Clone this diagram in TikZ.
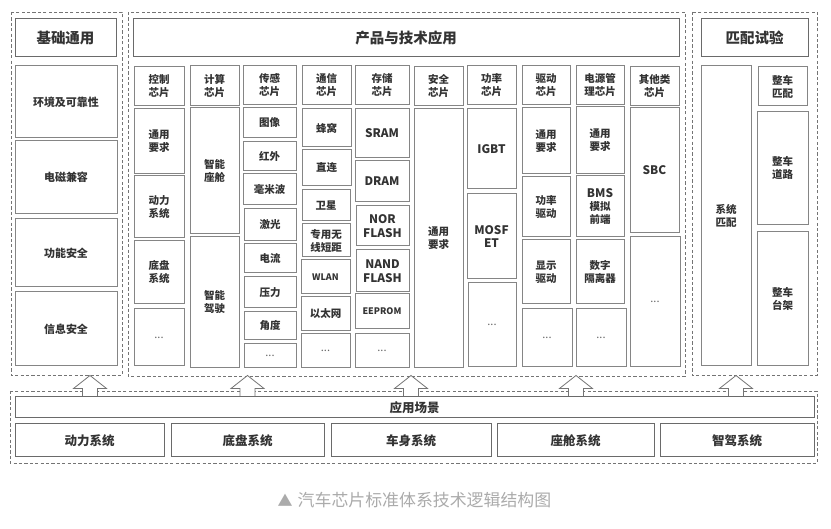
\documentclass[tikz,border=0pt]{standalone}
\usepackage{fontspec}
\setmainfont{Noto Sans CJK SC}
\definecolor{boxline}{HTML}{858585}
\definecolor{titleline}{HTML}{6A6A6A}
\definecolor{frameline}{HTML}{747474}
\definecolor{inktext}{HTML}{333333}
\definecolor{captiontext}{HTML}{ABABAB}
\tikzset{
  cell/.style={draw=boxline,line width=1pt,fill=white,inner sep=0pt,outer sep=0pt,align=center,text=inktext,
    font=\fontsize{10.5}{13}\selectfont\bfseries},
  bigcell/.style={cell,font=\fontsize{11}{13}\selectfont\bfseries},
  latincell/.style={cell,font=\fontsize{11.8}{13.5}\selectfont\bfseries},
  tinycell/.style={cell,font=\fontsize{9}{11}\selectfont\bfseries},
  dotcell/.style={cell,text=black!60,font=\fontsize{11}{12}\selectfont},
  headcell/.style={cell,draw=titleline,font=\fontsize{14.5}{16}\selectfont\bfseries},
  appcell/.style={cell,draw=titleline,font=\fontsize{12.5}{14}\selectfont\bfseries},
  frame/.style={draw=frameline,line width=0.8pt,dash pattern=on 3.2pt off 2.2pt},
  uparrow/.style={draw=frameline,line width=0.8pt,fill=white,line join=miter}
}
\newcommand{\bx}[6][cell]{%
  \pgfmathsetmacro{\bxw}{#4-#3}\pgfmathsetmacro{\bxh}{#6-#5}%
  \pgfmathsetmacro{\bxx}{(#3+#4)/2}\pgfmathsetmacro{\bxy}{(#5+#6)/2}%
  \node[#1,minimum width=\bxw pt,minimum height=\bxh pt] (#2) at (\bxx,\bxy) {\bxtext};}
\newcommand{\cellbox}[7][cell]{\def\bxtext{#7}\bx[#1]{#2}{#3}{#4}{#5}{#6}}
\newcommand{\uparr}[1]{%
  \draw[uparrow] (#1-7.5,397) -- (#1-7.5,388.5) -- (#1-16.5,388.5) -- (#1,375.5) -- (#1+16.5,388.5) -- (#1+7.5,388.5) -- (#1+7.5,397);}
\begin{document}
\begin{tikzpicture}[x=1pt,y=-1pt]
\useasboundingbox (0,0) rectangle (831,529);
\fill[white] (0,0) rectangle (831,529);
% dashed frames
\draw[frame] (11,12) rectangle (122,375);
\draw[frame] (128,12) rectangle (685,376);
\draw[frame] (692,12) rectangle (817,375);
\draw[frame] (10,391) rectangle (817,463);
% arrows
\uparr{90}\uparr{247.5}\uparr{411}\uparr{576}\uparr{736}
% left column
\cellbox[headcell]{jc}{15}{116}{19}{57}{基础通用}
\cellbox[bigcell]{j1}{15}{117}{66}{138}{\raisebox{-1pt}{环境及可靠性}}
\cellbox[bigcell]{j2}{15}{117}{141}{214}{\raisebox{-1pt}{电磁兼容}}
\cellbox[bigcell]{j3}{15}{117}{219}{287}{功能安全}
\cellbox[bigcell]{j4}{15}{117}{292}{366}{信息安全}
% product header
\cellbox[headcell]{cp}{133}{679}{19}{57}{产品与技术应用}
% control
\cellbox{a0}{134}{184}{67}{106}{控制\\芯片}
\cellbox{a1}{134}{184}{109}{174}{通用\\要求}
\cellbox{a2}{134}{184}{176}{238}{动力\\系统}
\cellbox{a3}{134}{184}{241}{304}{底盘\\系统}
\cellbox[dotcell]{a4}{134}{184}{309}{366}{...}
% compute
\cellbox{b0}{190}{239}{66}{106}{计算\\芯片}
\cellbox{b1}{190}{239}{108}{234}{智能\\座舱}
\cellbox{b2}{190}{239}{237}{368}{智能\\驾驶}
% sensor
\cellbox{c0}{243}{296}{66}{105}{传感\\芯片}
\cellbox{c1}{243}{296}{108}{138}{图像}
\cellbox{c2}{243}{296}{142}{171}{红外}
\cellbox{c3}{243}{296}{174}{205}{毫米波}
\cellbox{c4}{244}{296}{209}{241}{激光}
\cellbox{c5}{244}{296}{244}{273}{电流}
\cellbox{c6}{244}{296}{277}{308}{压力}
\cellbox{c7}{244}{296}{312}{340}{角度}
\cellbox[dotcell]{c8}{244}{296}{344}{368}{...}
% comm
\cellbox{d0}{302}{351}{66}{105}{通信\\芯片}
\cellbox{d1}{302}{351}{109}{147}{蜂窝}
\cellbox{d2}{302}{351}{150}{186}{直连}
\cellbox{d3}{302}{350}{190}{221}{卫星}
\cellbox{d4}{302}{350}{224}{257}{专用无\\线短距}
\cellbox[tinycell]{d5}{301}{350}{260}{294}{WLAN}
\cellbox{d6}{301}{350}{297}{331}{以太网}
\cellbox[dotcell]{d7}{301}{350}{334}{368}{...}
% storage
\cellbox{e0}{355}{409}{66}{105}{存储\\芯片}
\cellbox[latincell]{e1}{355}{409}{109}{158}{SRAM}
\cellbox[latincell]{e2}{355}{409}{161}{202}{DRAM}
\cellbox[latincell]{e3}{356}{409}{206}{246}{NOR\\FLASH}
\cellbox[latincell]{e4}{356}{409}{250}{292}{NAND\\FLASH}
\cellbox[tinycell]{e5}{355}{409}{294}{329}{EEPROM}
\cellbox[dotcell]{e6}{355}{409}{334}{368}{...}
% safety
\cellbox{f0}{414}{463}{67}{106}{安全\\芯片}
\cellbox{f1}{414}{463}{109}{368}{通用\\要求}
% power
\cellbox{g0}{467}{516}{66}{105}{功率\\芯片}
\cellbox[latincell]{g1}{467}{516}{109}{189}{IGBT}
\cellbox[latincell]{g2}{467}{516}{194}{279}{MOSF\\ET}
\cellbox[dotcell]{g3}{468}{516}{283}{367}{...}
% drive
\cellbox{h0}{522}{570}{66}{105}{驱动\\芯片}
\cellbox{h1}{522}{570}{108}{174}{通用\\要求}
\cellbox{h2}{522}{570}{177}{237}{功率\\驱动}
\cellbox{h3}{522}{570}{240}{304}{显示\\驱动}
\cellbox[dotcell]{h4}{522}{572}{309}{367}{...}
% power management
\cellbox{i0}{576}{624}{66}{105}{电源管\\理芯片}
\cellbox{i1}{576}{624}{107}{174}{通用\\要求}
\cellbox[cell]{i2}{576}{624}{176}{237}{{\fontsize{11.8}{13}\selectfont BMS}\\模拟\\前端}
\cellbox{i3}{576}{624}{240}{304}{数字\\隔离器}
\cellbox[dotcell]{i4}{576}{626}{309}{367}{...}
% other
\cellbox{k0}{630}{679}{67}{106}{其他类\\芯片}
\cellbox[latincell]{k1}{630}{679}{108}{233}{SBC}
\cellbox[dotcell]{k2}{630}{680}{237}{367}{...}
% matching
\cellbox[headcell]{cm}{701}{808}{19}{57}{匹配试验}
\cellbox{m1}{701}{751}{66}{366}{系统\\匹配}
\cellbox{m2}{758}{807}{67}{106}{整车\\匹配}
\cellbox{m3}{757}{808}{112}{225}{整车\\道路}
\cellbox{m4}{757}{808}{232}{366}{整车\\台架}
% application
\cellbox[appcell]{ap}{15}{814}{397}{418}{应用场景}
\cellbox[appcell]{p1}{15}{164}{424}{457}{动力系统}
\cellbox[appcell]{p2}{171}{324}{424}{457}{底盘系统}
\cellbox[appcell]{p3}{331}{491}{424}{457}{车身系统}
\cellbox[appcell]{p4}{497}{654}{424}{457}{座舱系统}
\cellbox[appcell]{p5}{660}{814}{424}{457}{智驾系统}
% caption
\node[anchor=west,inner sep=0pt,text=captiontext,font=\fontsize{16.9}{20}\selectfont] (cap) at (277.5,500) {{\fontsize{15}{20}\selectfont ▲}\hspace{5pt}汽车芯片标准体系技术逻辑结构图};
\end{tikzpicture}
\end{document}
